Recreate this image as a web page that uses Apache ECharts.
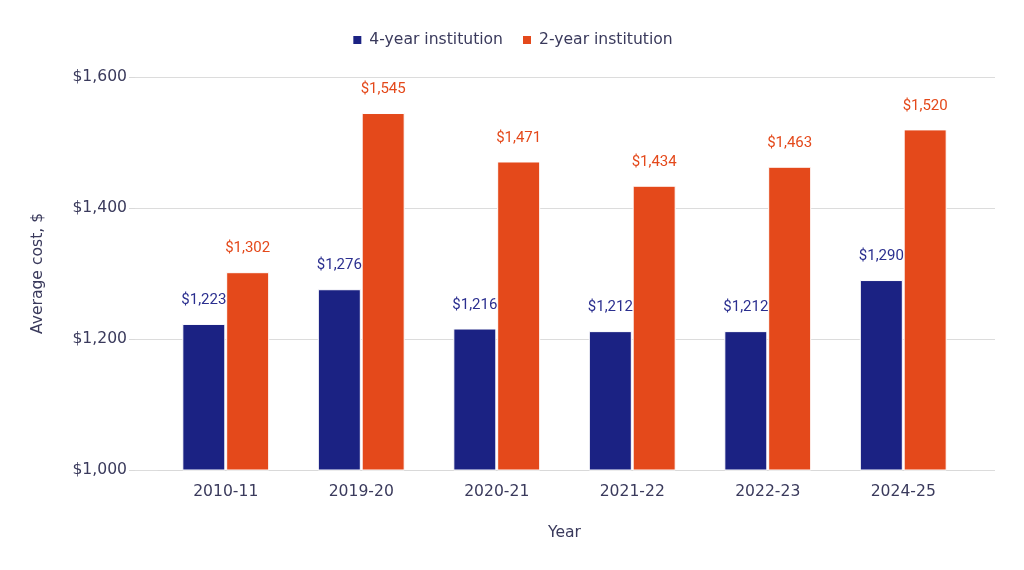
<!DOCTYPE html>
<html><head><meta charset="utf-8">
<script src="https://cdn.jsdelivr.net/npm/echarts@6/dist/echarts.min.js"></script>
<style>html,body{margin:0;padding:0;background:#fff}#c{width:1024px;height:570px}</style>
</head><body><div id="c"></div>
<script>
const categories = ['2010-11','2019-20','2020-21','2021-22','2022-23','2024-25'];
const fourYear = [1223,1276,1216,1212,1212,1290];
const twoYear = [1302,1545,1471,1434,1463,1520];
const yTicks = [1000,1200,1400,1600];
const seriesNames = ['4-year institution','2-year institution'];

const axisFont = '"DejaVu Sans", Verdana, sans-serif';
const textColor = '#3a3a5c';
const fs = 15.6;
const fmt = v => '$' + v.toLocaleString('en-US');

const chart = echarts.init(document.getElementById('c'));
chart.setOption({
  animation:false,
  legend:{top:27,left:'center',itemWidth:10,itemHeight:10,itemGap:18,icon:'rect',
    textStyle:{fontFamily:axisFont,fontSize:fs,color:textColor,padding:[0,0,0,2]},data:seriesNames},
  grid:[
    {left:135,right:29,top:77,bottom:100},
    {left:158,right:53,top:77,bottom:100}
  ],
  xAxis:[
    {gridIndex:0,type:'category',data:categories,show:false},
    {gridIndex:1,type:'category',data:categories,
     axisLine:{lineStyle:{color:'#d9d9d9'}},axisTick:{show:false},
     axisLabel:{fontFamily:axisFont,fontSize:fs,color:textColor,margin:14},
     name:'Year',nameLocation:'middle',nameGap:55,
     nameTextStyle:{fontFamily:axisFont,fontSize:fs,color:textColor}}
  ],
  yAxis:[
    {gridIndex:0,type:'value',min:yTicks[0],max:yTicks[yTicks.length-1],interval:200,
     axisLine:{show:false},axisTick:{show:true,length:6,lineStyle:{color:'#d9d9d9'}},
     splitLine:{lineStyle:{color:'#dcdcdc'}},
     axisLabel:{fontFamily:axisFont,fontSize:fs,color:textColor,margin:8,formatter:fmt},
     name:'Average cost, $',nameLocation:'middle',nameGap:89,nameRotate:90,
     nameTextStyle:{fontFamily:axisFont,fontSize:fs,color:textColor}},
    {gridIndex:1,type:'value',min:yTicks[0],max:yTicks[yTicks.length-1],interval:200,show:false}
  ],
  series:[
    {name:seriesNames[0],type:'bar',xAxisIndex:1,yAxisIndex:1,data:fourYear,
     barWidth:43,barGap:'2%',
     itemStyle:{color:'#1b2283',borderColor:'#fff',borderWidth:1},
     label:{show:true,position:'top',distance:16,formatter:p=>fmt(p.value),
       fontFamily:'Roboto',fontSize:15,color:'#2b2f8f'}},
    {name:seriesNames[1],type:'bar',xAxisIndex:1,yAxisIndex:1,data:twoYear,
     barWidth:43,
     itemStyle:{color:'#e4491b',borderColor:'#fff',borderWidth:1},
     label:{show:true,position:'top',distance:16,formatter:p=>fmt(p.value),
       fontFamily:'Roboto',fontSize:15,color:'#e4491b'}}
  ]
});
</script></body></html>
